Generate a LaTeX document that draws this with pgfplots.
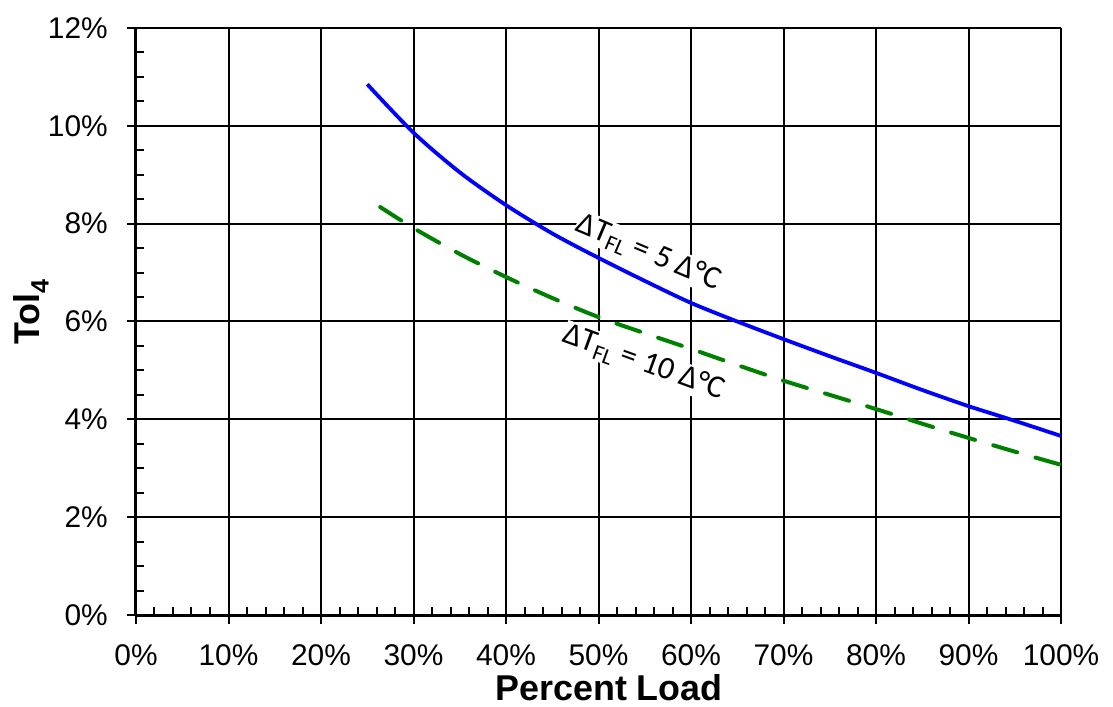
\documentclass[border=0pt]{standalone}
\usepackage{fontspec}
\setmainfont{Liberation Sans}
\newfontfamily\calfont{Carlito}
\usepackage{pgfplots}
\pgfplotsset{compat=1.18}
\begin{document}
\begin{tikzpicture}
\begin{axis}[
 scale only axis, width=925bp, height=587bp,
 xmin=0,xmax=100,ymin=0,ymax=12, enlargelimits=false,
 axis x line*=bottom, axis y line*=left,
 axis line style={-, line width=3bp, black},
 xtick={0,10,...,100}, ytick={0,2,...,12},
 minor x tick num=4, minor y tick num=3,
 tick align=inside, major tick length=-9bp, minor tick length=8bp,
 tick style={black, line width=2bp},
 grid=major, grid style={black, line width=2bp},
 /pgf/number format/assume math mode=true,
 xticklabel={\pgfmathprintnumber{\tick}\%},
 yticklabel={\pgfmathprintnumber{\tick}\%},
 tick label style={font=\fontsize{30}{36}\selectfont},
 xticklabel style={anchor=north, inner sep=0pt, yshift=-29bp},
 yticklabel style={anchor=east, inner sep=0pt, xshift=-28bp},
 xlabel={\textbf{Percent Load}},
 ylabel={\textbf{Tol\textsubscript{4}}},
 label style={font=\fontsize{36}{42}\selectfont},
 xlabel style={at={(axis description cs:0.5114,-0.1465)}, anchor=base, inner sep=0pt},
 ylabel style={at={(axis description cs:-0.1038,0.5162)}, anchor=base, inner sep=0pt},
]
\node[font=\calfont\fontsize{32}{36}\selectfont, rotate=-23, fill=white, inner sep=1bp] at (axis cs:55.4,7.40) {ΔT\textsubscript{FL} = 5 Δ°C};
\node[font=\calfont\fontsize{32}{36}\selectfont, rotate=-20, fill=white, inner sep=1bp] at (axis cs:54.9,5.15) {ΔT\textsubscript{FL} = 10 Δ°C};
\addplot[color={rgb,255:red,0;green,0;blue,255}, line width=3.8bp, smooth] coordinates {
(25,10.85) (30,9.86) (35,9.05) (40,8.38) (45,7.80) (50,7.30) (55,6.83) (60,6.38)
(65,6.00) (70,5.64) (75,5.29) (80,4.95) (85,4.60) (90,4.27) (95,3.97) (100,3.66)};
\addplot[color={rgb,255:red,0;green,128;blue,0}, line width=4bp, smooth, line cap=round, dash pattern=on 25bp off 19bp] coordinates {
(26.4,8.34) (30,7.91) (35,7.38) (40,6.91) (45,6.48) (50,6.09) (55,5.76) (60,5.44)
(65,5.11) (70,4.79) (75,4.50) (80,4.21) (85,3.91) (90,3.62) (95,3.34) (100,3.07)};
\coordinate (O) at (rel axis cs:0,0);
\end{axis}
\pgfresetboundingbox
\path ([shift={(-136bp,-92bp)}]O) rectangle ++(1113bp,707bp);
\end{tikzpicture}
\end{document}
